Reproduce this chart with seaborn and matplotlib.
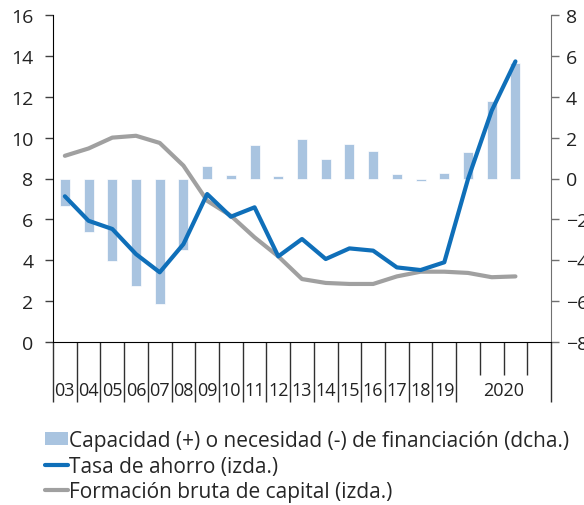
import numpy as np
import pandas as pd
import matplotlib
matplotlib.use('Agg')
import matplotlib.pyplot as plt
from matplotlib.patches import Patch
from matplotlib.lines import Line2D
import seaborn as sns

# periods: years 2003-2019, then 2020 by quarter (Q4 still empty)
years = ['03', '04', '05', '06', '07', '08', '09', '10', '11', '12', '13',
         '14', '15', '16', '17', '18', '19']
quarters_2020 = ['I', 'II', 'III']
label_2020 = '2020'

# capacidad/necesidad de financiacion (% PIB, right axis)
capacidad = [-1.33, -2.6, -4.03, -5.27, -6.15, -3.48, 0.62, 0.15, 1.63, 0.1,
             1.94, 0.96, 1.69, 1.37, 0.21, -0.1, 0.28, 1.32, 3.79, 5.64]
# tasa de ahorro (left axis)
ahorro = [7.13, 5.93, 5.53, 4.3, 3.41, 4.79, 7.24, 6.13, 6.59, 4.19, 5.04,
          4.06, 4.58, 4.47, 3.65, 3.52, 3.9, 7.97, 11.32, 13.73]
# formacion bruta de capital (left axis)
fbk = [9.11, 9.47, 10.0, 10.09, 9.74, 8.63, 6.91, 6.18, 5.12, 4.19, 3.08,
       2.89, 2.84, 2.84, 3.21, 3.44, 3.44, 3.38, 3.17, 3.21]

lbl_bar = 'Capacidad (+) o necesidad (-) de financiación (dcha.)'
lbl_ahorro = 'Tasa de ahorro (izda.)'
lbl_fbk = 'Formación bruta de capital (izda.)'

c_bar = '#a9c4e0'
c_blue = '#0f6fb9'
c_gray = '#a0a0a0'

n_slots = len(years) + 4
pos = np.arange(len(capacidad))
df = pd.DataFrame({'pos': pos, 'capacidad': capacidad, 'ahorro': ahorro, 'fbk': fbk})

sns.set_style('white')
plt.rcParams['font.family'] = ['Open Sans', 'DejaVu Sans']
fs = 14
fs_x = 13
fs_leg = 15

fig = plt.figure(figsize=(5.84, 5.06), dpi=100)
rect = [53 / 584, 1 - 343 / 506, (551 - 53) / 584, (343 - 16) / 506]
ax = fig.add_axes(rect)
ax2 = ax.twinx()
# separate axes only for the short 2020 quarter ticks
ax3 = fig.add_axes(rect, zorder=-1)

sns.barplot(data=df, x='pos', y='capacidad', native_scale=True, ax=ax2,
            color=c_bar, saturation=1, width=0.42, edgecolor='white', linewidth=0.5)
sns.lineplot(data=df, x='pos', y='fbk', ax=ax, color=c_gray, lw=3)
sns.lineplot(data=df, x='pos', y='ahorro', ax=ax, color=c_blue, lw=3)

ax.set_zorder(ax2.get_zorder() + 1)
ax.patch.set_visible(False)

ax.set_xlim(-0.5, n_slots - 0.5)
ax.set_ylim(0, 16)
ax2.set_ylim(-8, 8)
ax.set_yticks(np.arange(0, 17, 2))
ax2.set_yticks(np.arange(-8, 9, 2))
for a in (ax, ax2):
    a.set_xlabel('')
    a.set_ylabel('')

for s in ['top', 'right']:
    ax.spines[s].set_visible(False)
for s in ['top', 'left', 'bottom']:
    ax2.spines[s].set_visible(False)
ax.spines['left'].set_color('black')
ax.spines['bottom'].set_color('black')
ax2.spines['right'].set_color('#707070')

ax.tick_params(axis='y', left=True, length=6, width=1, color='#404040',
               labelsize=fs, pad=8, labelcolor='#222222')
ax2.tick_params(axis='y', right=True, length=6, width=1, color='#707070',
                labelsize=fs, pad=4.5, labelcolor='#222222')

# x axis: long separators between years, labels centred in each slot
bounds = list(np.arange(len(years) + 1) - 0.5) + [n_slots - 0.5]
centres = list(np.arange(len(years))) + [len(years) + 1.5]
ax.set_xticks(centres)
ax.set_xticklabels(years + [label_2020])
ax.set_xticks(bounds, minor=True)
ax.tick_params(axis='x', which='major', length=0, labelsize=fs_x, pad=28,
               labelcolor='#222222', bottom=True)
ax.tick_params(axis='x', which='minor', length=43, width=1, color='#303030',
               bottom=True)

ax3.set_xlim(ax.get_xlim())
ax3.set_xticks(np.arange(len(years), n_slots - 1) + 0.5)
ax3.set_xticklabels([])
ax3.set_yticks([])
ax3.tick_params(axis='x', length=24, width=1, color='#303030', bottom=True)
ax3.patch.set_visible(False)
for s in ax3.spines.values():
    s.set_visible(False)

handles = [Patch(facecolor=c_bar, edgecolor='none'),
           Line2D([], [], color=c_blue, lw=3),
           Line2D([], [], color=c_gray, lw=3)]
fig.legend(handles, [lbl_bar, lbl_ahorro, lbl_fbk], loc='upper left',
           bbox_to_anchor=(45 / 584, 1 - 431 / 506), frameon=False, fontsize=fs_leg,
           handlelength=1.1, handleheight=0.6, handletextpad=0.05, labelspacing=0.22,
           borderaxespad=0, borderpad=0)

fig.savefig('out.png', dpi=100)
